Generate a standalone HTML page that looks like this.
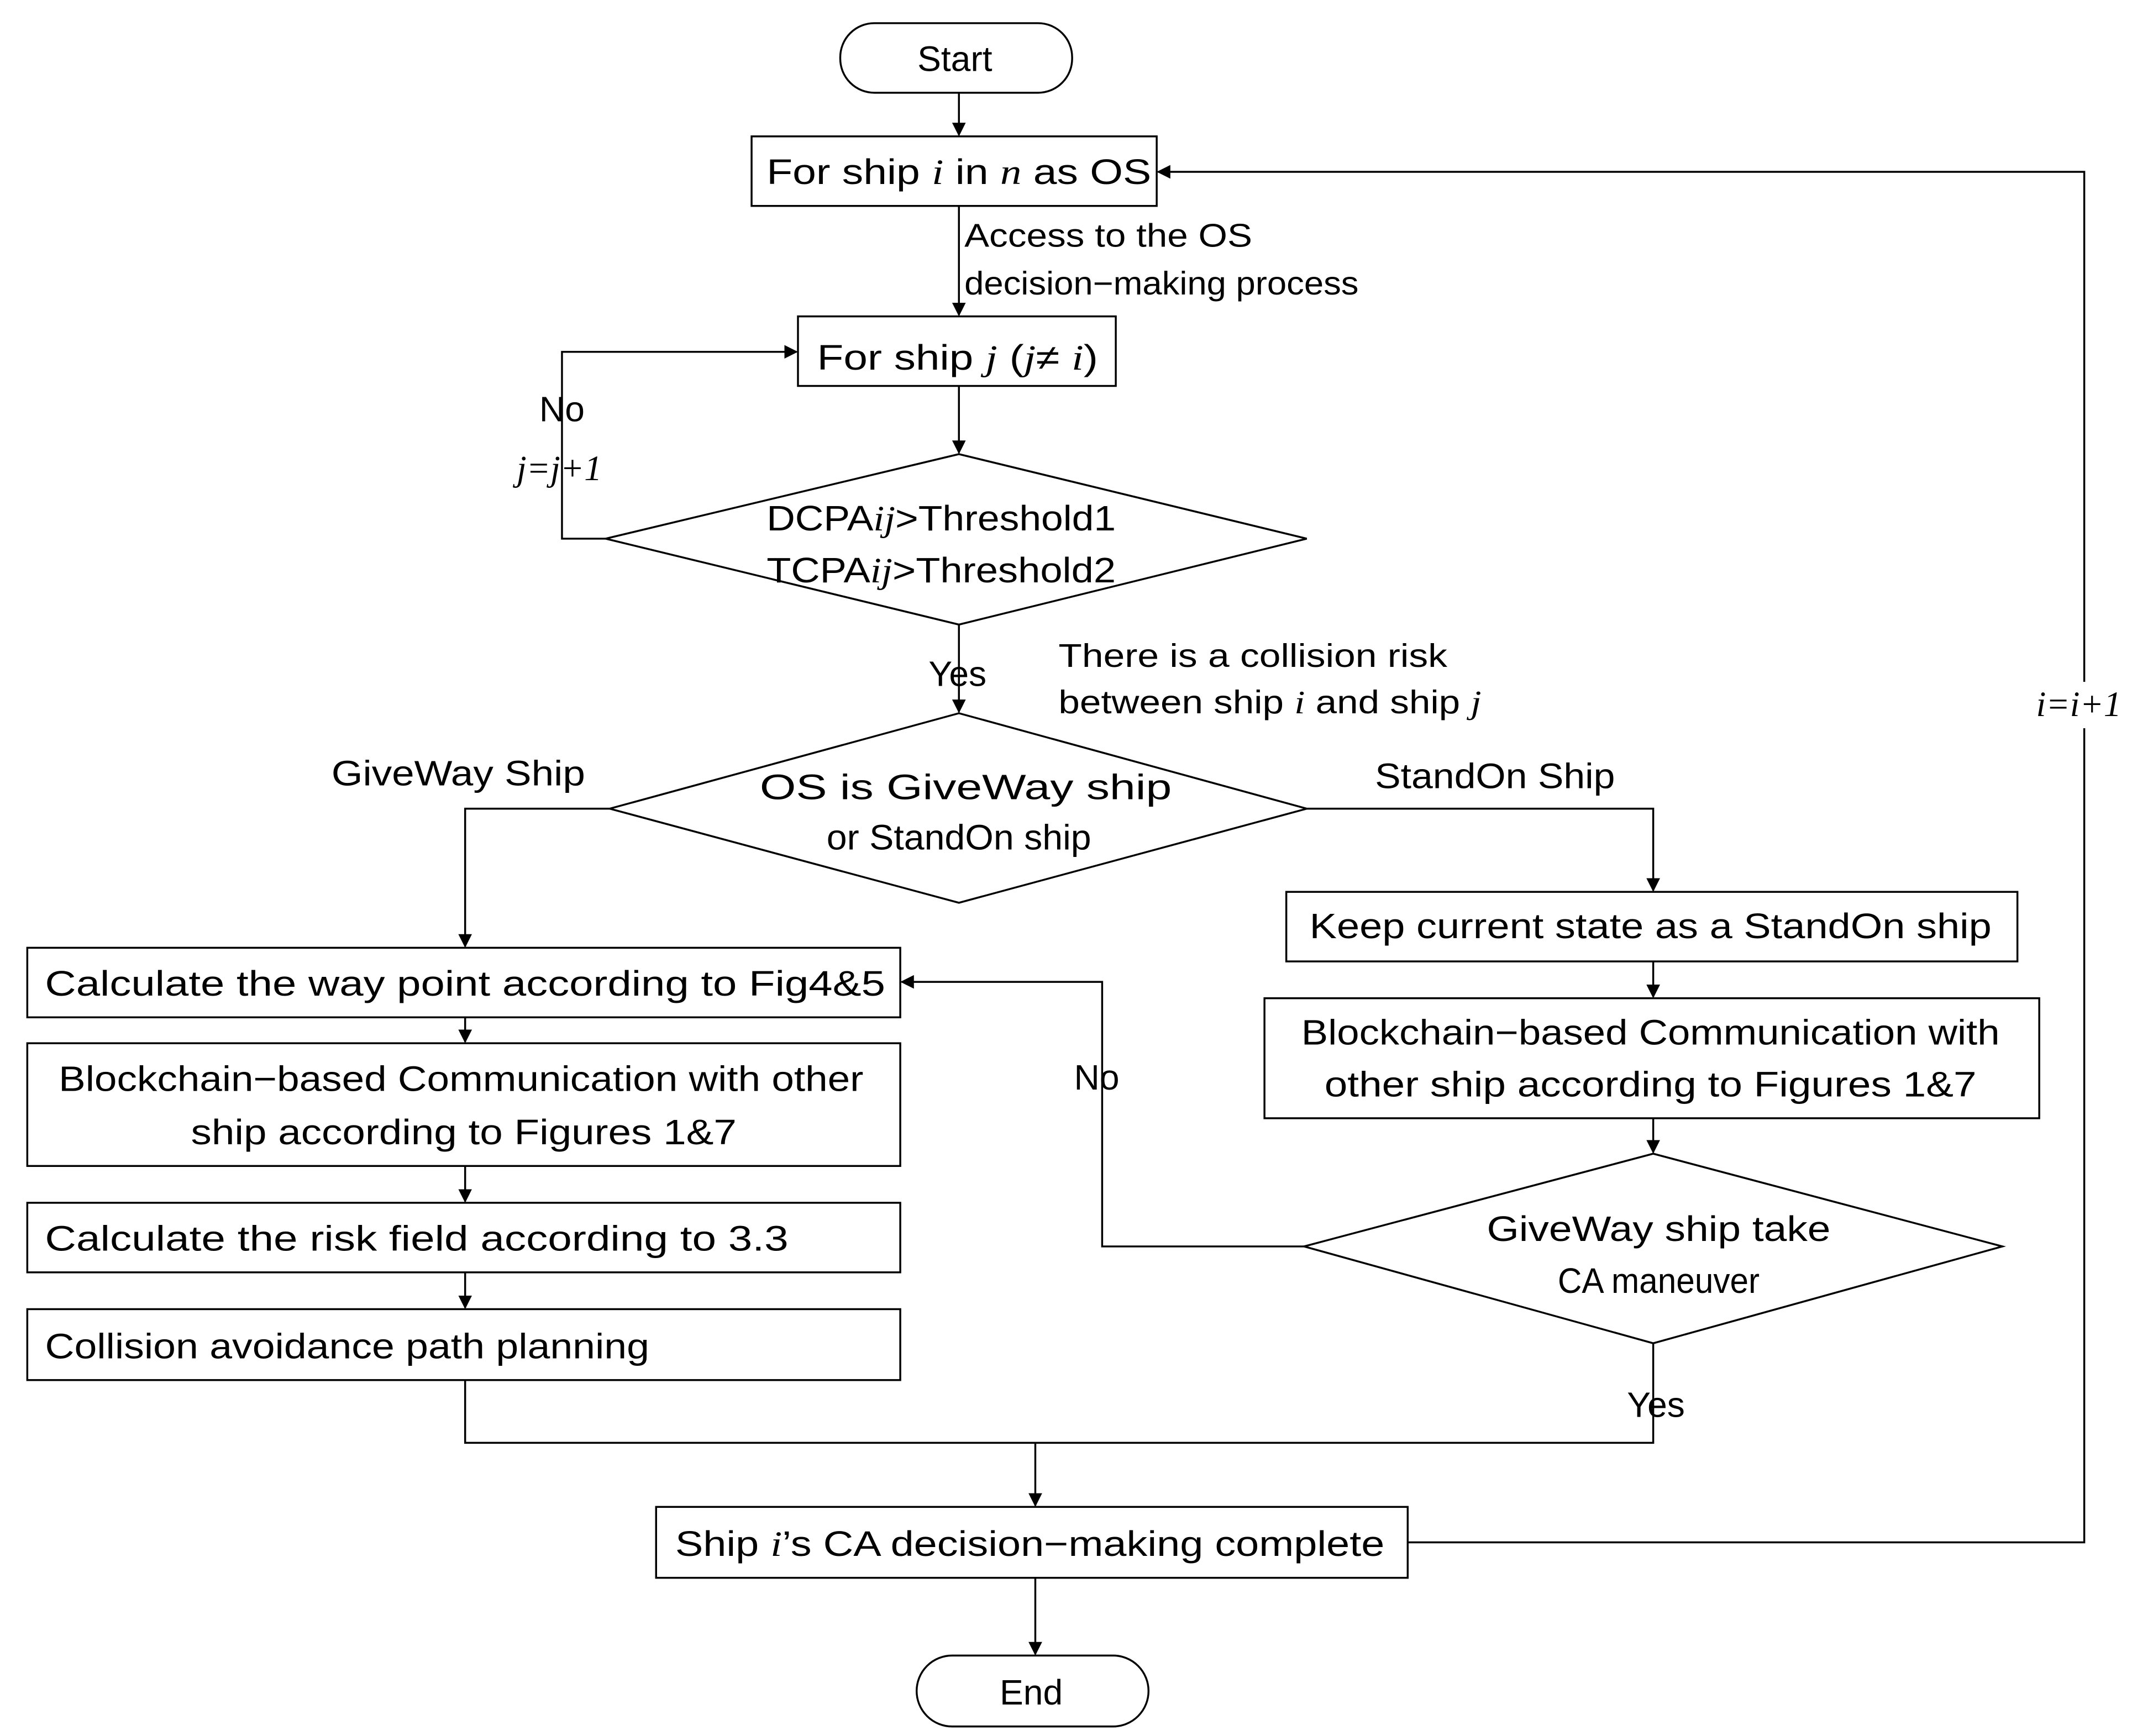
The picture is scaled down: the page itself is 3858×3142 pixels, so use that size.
<!DOCTYPE html>
<html><head><meta charset="utf-8"><style>html,body{margin:0;padding:0;background:#fff}svg{display:block}</style></head>
<body>
<svg width="3858" height="3142" viewBox="0 0 1563 1273" preserveAspectRatio="none" xmlns="http://www.w3.org/2000/svg" font-family="Liberation Sans, NanumGothic, sans-serif" font-size="26">
<defs><marker id="a" markerWidth="10" markerHeight="10" refX="9" refY="5" orient="auto" markerUnits="userSpaceOnUse"><path d="M0,0 L10,5 L0,10 z" fill="#000"/></marker></defs>
<g fill="none" stroke="#000" stroke-width="1.4">
<rect x="616" y="17" width="170" height="51" rx="25"/>
<rect x="551" y="100" width="297" height="51"/>
<rect x="585" y="232" width="233" height="51"/>
<polygon points="703,333 958,395 703,458 444,395"/>
<polygon points="703,523 958,593 703,662 447,593"/>
<rect x="20" y="695" width="640" height="51"/>
<rect x="20" y="765" width="640" height="90"/>
<rect x="20" y="882" width="640" height="51"/>
<rect x="20" y="960" width="640" height="52"/>
<rect x="943" y="654" width="536" height="51"/>
<rect x="927" y="732" width="568" height="88"/>
<polygon points="1212,846 1468,914 1212,985 956,914"/>
<rect x="481" y="1105" width="551" height="52"/>
<rect x="672" y="1214" width="170" height="52" rx="26"/>
<g marker-end="url(#a)">
<path d="M703,68V99"/>
<path d="M703,151V231"/>
<path d="M703,283V332"/>
<path d="M444,395H412V258H584"/>
<path d="M703,458V522"/>
<path d="M447,593H341V694"/>
<path d="M958,593H1212V653"/>
<path d="M341,746V764"/>
<path d="M341,855V881"/>
<path d="M341,933V959"/>
<path d="M1212,705V731"/>
<path d="M1212,820V845"/>
<path d="M956,914H808V720H661"/>
<path d="M759,1058V1104"/>
<path d="M759,1157V1213"/>
<path d="M1032,1131H1528V126H849"/>
</g>
<path d="M1212,985V1058H341V1012"/>
</g>
<rect x="1486" y="500" width="80" height="34" fill="#fff"/>
<g fill="#000" text-anchor="middle">
<text x="700" y="52">Start</text>
<text x="703" y="135" textLength="282" lengthAdjust="spacingAndGlyphs">For ship <tspan font-family="Liberation Serif" font-style="italic">i</tspan> in <tspan font-family="Liberation Serif" font-style="italic">n</tspan> as OS</text>
<text x="702" y="271" textLength="206" lengthAdjust="spacingAndGlyphs">For ship <tspan font-family="Liberation Serif" font-style="italic">j</tspan> (<tspan font-family="Liberation Serif" font-style="italic">j</tspan>≠ <tspan font-family="Liberation Serif" font-style="italic">i</tspan>)</text>
<text x="690" y="389" textLength="256" lengthAdjust="spacingAndGlyphs">DCPA<tspan font-family="Liberation Serif" font-style="italic">ij</tspan>&gt;Threshold1</text>
<text x="690" y="427" textLength="256" lengthAdjust="spacingAndGlyphs">TCPA<tspan font-family="Liberation Serif" font-style="italic">ij</tspan>&gt;Threshold2</text>
<text x="412" y="309">No</text>
<text x="410" y="352" font-family="Liberation Serif" font-style="italic">j=j+1</text>
<text x="702" y="503">Yes</text>
<text x="708" y="586" textLength="302" lengthAdjust="spacingAndGlyphs">OS is GiveWay ship</text>
<text x="703" y="623" textLength="194" lengthAdjust="spacingAndGlyphs">or StandOn ship</text>
<text x="336" y="576" textLength="186" lengthAdjust="spacingAndGlyphs">GiveWay Ship</text>
<text x="1096" y="578" textLength="176" lengthAdjust="spacingAndGlyphs">StandOn Ship</text>
<text x="1210" y="688" textLength="500" lengthAdjust="spacingAndGlyphs">Keep current state as a StandOn ship</text>
<text x="1210" y="766" textLength="512" lengthAdjust="spacingAndGlyphs">Blockchain−based Communication with</text>
<text x="1210" y="804" textLength="478" lengthAdjust="spacingAndGlyphs">other ship according to Figures 1&amp;7</text>
<text x="1216" y="910" textLength="252" lengthAdjust="spacingAndGlyphs">GiveWay ship take</text>
<text x="1216" y="948" textLength="148" lengthAdjust="spacingAndGlyphs">CA maneuver</text>
<text x="804" y="799">No</text>
<text x="1214" y="1039">Yes</text>
<text x="338" y="800" textLength="590" lengthAdjust="spacingAndGlyphs">Blockchain−based Communication with other</text>
<text x="340" y="839" textLength="400" lengthAdjust="spacingAndGlyphs">ship according to Figures 1&amp;7</text>
<text x="755" y="1141" textLength="520" lengthAdjust="spacingAndGlyphs">Ship <tspan font-family="Liberation Serif" font-style="italic">i</tspan>’s CA decision−making complete</text>
<text x="756" y="1250">End</text>
<text x="1524" y="525" font-family="Liberation Serif" font-style="italic">i=i+1</text>
</g>
<g fill="#000">
<text x="33" y="730" textLength="616" lengthAdjust="spacingAndGlyphs">Calculate the way point according to Fig4&amp;5</text>
<text x="33" y="917" textLength="545" lengthAdjust="spacingAndGlyphs">Calculate the risk field according to 3.3</text>
<text x="33" y="996" textLength="443" lengthAdjust="spacingAndGlyphs">Collision avoidance path planning</text>
<text x="707" y="181" font-size="24" textLength="211" lengthAdjust="spacingAndGlyphs">Access to the OS</text>
<text x="707" y="216" font-size="24" textLength="289" lengthAdjust="spacingAndGlyphs">decision−making process</text>
<text x="776" y="489" font-size="24" textLength="285" lengthAdjust="spacingAndGlyphs">There is a collision risk</text>
<text x="776" y="523" font-size="24" textLength="310" lengthAdjust="spacingAndGlyphs">between ship <tspan font-family="Liberation Serif" font-style="italic">i</tspan> and ship <tspan font-family="Liberation Serif" font-style="italic">j</tspan></text>
</g>
</svg>
</body></html>
